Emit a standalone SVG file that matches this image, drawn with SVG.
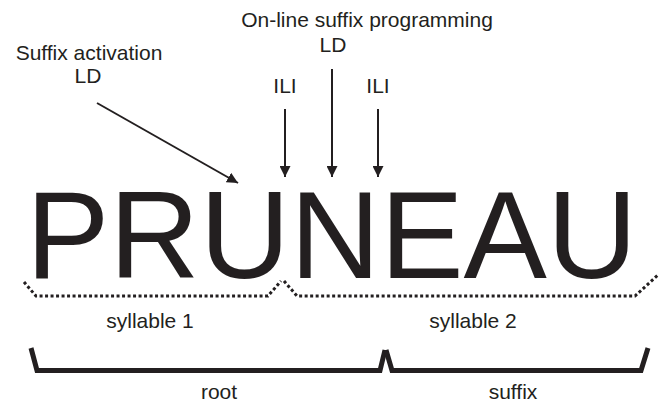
<svg xmlns="http://www.w3.org/2000/svg" width="665" height="405" viewBox="0 0 665 405">
<style>
text{font-family:"Liberation Sans",Arial,sans-serif;fill:#231f20}
.lbl{font-size:21px;text-anchor:middle}
.word{font-size:125px}
.arr{stroke:#231f20;stroke-width:2;fill:none}
.dots{stroke:#231f20;stroke-width:3;fill:none;stroke-dasharray:3 2.5}
.brk{stroke:#231f20;stroke-width:5;fill:none;stroke-linejoin:miter}
</style>
<defs>
<marker id="ah" viewBox="0 0 10 10" refX="10" refY="5" markerWidth="5.5" markerHeight="5.5" markerUnits="strokeWidth" orient="auto">
<path d="M0,0 L10,5 L0,10 z" fill="#231f20"/>
</marker>
</defs>
<rect width="665" height="405" fill="#fff"/>
<g id="suffix-activation">
<text class="lbl" x="89" y="60">Suffix activation</text>
<text class="lbl" x="88" y="83">LD</text>
</g>
<g id="online-programming">
<text class="lbl" x="367" y="27">On-line suffix programming</text>
<text class="lbl" x="333" y="52">LD</text>
</g>
<g id="ili-1"><text class="lbl" x="285" y="93">ILI</text></g>
<g id="ili-2"><text class="lbl" x="378" y="93">ILI</text></g>
<g id="word"><text class="word" x="26" y="278">PRUNEAU</text></g>
<g id="connectors">
<line class="arr" x1="97" y1="103" x2="238" y2="183" marker-end="url(#ah)"/>
<line class="arr" x1="285" y1="109" x2="285" y2="177" marker-end="url(#ah)"/>
<line class="arr" x1="332" y1="69" x2="332" y2="177" marker-end="url(#ah)"/>
<line class="arr" x1="378" y1="109" x2="378" y2="177" marker-end="url(#ah)"/>
</g>
<g id="syllable-1">
<path class="dots" d="M24,282 L36,296 L268,296 L281,281"/>
<text class="lbl" x="150" y="328">syllable 1</text>
</g>
<g id="syllable-2">
<path class="dots" d="M284,281 L297,296 L635,296 L659,274"/>
<text class="lbl" x="473" y="328">syllable 2</text>
</g>
<g id="root">
<path class="brk" d="M31,348 L37,370.5 L380,370.5 L385,350"/>
<text class="lbl" x="219" y="399">root</text>
</g>
<g id="suffix">
<path class="brk" d="M386,350 L392,370.5 L641,370.5 L648,348"/>
<text class="lbl" x="513" y="399">suffix</text>
</g>
</svg>
